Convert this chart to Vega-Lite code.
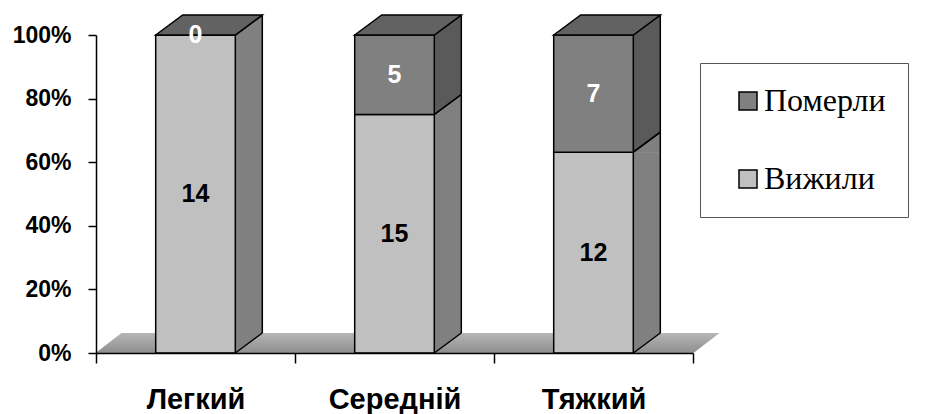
{
  "$schema": "https://vega.github.io/schema/vega-lite/v6.json",
  "width": 597,
  "height": 318,
  "autosize": {"type": "none"},
  "padding": {"left": 96, "top": 35, "right": 233, "bottom": 61},
  "background": "white",
  "config": {"view": {"stroke": null}, "font": "Liberation Sans"},
  "data": {
    "values": [
      {"severity": "Легкий", "outcome": "Вижили", "n": 14},
      {"severity": "Легкий", "outcome": "Померли", "n": 0},
      {"severity": "Середній", "outcome": "Вижили", "n": 15},
      {"severity": "Середній", "outcome": "Померли", "n": 5},
      {"severity": "Тяжкий", "outcome": "Вижили", "n": 12},
      {"severity": "Тяжкий", "outcome": "Померли", "n": 7}
    ]
  },
  "transform": [
    {"stack": "n", "groupby": ["severity"], "sort": [{"field": "outcome", "order": "ascending"}], "as": ["y0", "y1"], "offset": "normalize"},
    {"calculate": "(datum.y0 + datum.y1) / 2", "as": "ymid"}
  ],
  "encoding": {
    "x": {
      "field": "severity",
      "type": "nominal",
      "scale": {"type": "band", "paddingInner": 0, "paddingOuter": 0},
      "axis": {
        "title": null,
        "labelAngle": 0,
        "domainColor": "#000",
        "domainWidth": 1.5,
        "tickColor": "#000",
        "tickWidth": 1.5,
        "tickSize": 10,
        "tickBand": "extent",
        "labelFont": "Liberation Sans",
        "labelFontWeight": "bold",
        "labelFontSize": 29,
        "labelColor": "#000",
        "labelPadding": 22,
        "zindex": 1
      }
    }
  },
  "layer": [
    {
      "transform": [{"filter": "datum.outcome === 'Вижили'"}],
      "mark": {
        "type": "point",
        "shape": "M-100,0L-74,-20L126,-20L100,0Z",
        "size": 4,
        "filled": true,
        "opacity": 1,
        "strokeWidth": 0,
        "fill": {"gradient": "linear", "x1": 0, "y1": 0, "x2": 0, "y2": 1, "stops": [{"offset": 0, "color": "#b6b6b6"}, {"offset": 1, "color": "#8e8e8e"}]}
      },
      "encoding": {"y": {"field": "y0", "type": "quantitative", "axis": {"title": null}}}
    },
    {
      "transform": [{"filter": "datum.n > 0"}],
      "mark": {"type": "bar", "width": 27, "xOffset": 53.3, "y2Offset": -20},
      "encoding": {
        "y": {"field": "y1", "type": "quantitative", "axis": {"title": null}},
        "y2": {"field": "y0"},
        "color": {"condition": {"test": "datum.outcome === 'Померли'", "value": "#5a5a5a"}, "value": "#808080"}
      }
    },
    {
      "transform": [{"filter": "datum.n > 0"}],
      "mark": {"type": "point", "shape": "M39.8,0.5L66.8,-20L66.8,0.5Z", "size": 4, "filled": true, "opacity": 1, "strokeWidth": 0},
      "encoding": {
        "y": {"field": "y1", "type": "quantitative", "axis": {"title": null}},
        "color": {"condition": {"test": "datum.outcome === 'Померли'", "value": "#5a5a5a"}, "value": "#808080"}
      }
    },
    {
      "transform": [{"filter": "datum.n > 0"}],
      "mark": {"type": "point", "shape": "M39.8,-20.5L39.8,0L66.8,-20.5Z", "size": 4, "filled": true, "opacity": 1, "strokeWidth": 0},
      "encoding": {
        "y": {"field": "y0", "type": "quantitative", "axis": {"title": null}},
        "color": {"condition": {"test": "datum.outcome === 'Померли'", "value": "#5a5a5a"}, "value": "#808080"}
      }
    },
    {
      "mark": {"type": "point", "shape": "M39.8,0L66.8,-20", "size": 4, "filled": false, "opacity": 1, "color": "#000", "strokeWidth": 1.5},
      "encoding": {"y": {"field": "y1", "type": "quantitative", "axis": {"title": null}}}
    },
    {
      "mark": {"type": "point", "shape": "M39.8,0L66.8,-20", "size": 4, "filled": false, "opacity": 1, "color": "#000", "strokeWidth": 1.5},
      "encoding": {"y": {"field": "y0", "type": "quantitative", "axis": {"title": null}}}
    },
    {
      "mark": {"type": "rule", "xOffset": 66.8, "yOffset": -20, "y2Offset": -20, "color": "#000", "strokeWidth": 1.5},
      "encoding": {
        "y": {"field": "y1", "type": "quantitative", "axis": {"title": null}},
        "y2": {"field": "y0"}
      }
    },
    {
      "mark": {"type": "bar", "width": {"band": 0.4}, "stroke": "#000", "strokeWidth": 1.5},
      "encoding": {
        "y": {
          "field": "y1",
          "type": "quantitative",
          "scale": {"domain": [0, 1], "nice": false},
          "axis": {
            "title": null,
            "values": [0, 0.2, 0.4, 0.6, 0.8, 1],
            "format": ".0%",
            "grid": false,
            "domainColor": "#000",
            "domainWidth": 1.5,
            "tickColor": "#000",
            "tickWidth": 1.5,
            "tickSize": 8,
            "labelFont": "Liberation Sans",
            "labelFontWeight": "bold",
            "labelFontSize": 23,
            "labelColor": "#000",
            "labelPadding": 17,
            "zindex": 1
          }
        },
        "y2": {"field": "y0"},
        "color": {
          "field": "outcome",
          "type": "nominal",
          "scale": {"domain": ["Померли", "Вижили"], "range": ["#808080", "#c0c0c0"]},
          "legend": {
            "title": null,
            "orient": "none",
            "legendX": 604,
            "legendY": 28,
            "direction": "vertical",
            "symbolType": "square",
            "symbolSize": 324,
            "symbolStrokeColor": "#000",
            "symbolStrokeWidth": 1.5,
            "symbolOffset": 10,
            "labelFont": "Liberation Serif",
            "labelFontSize": 32,
            "labelColor": "#000",
            "labelOffset": 0,
            "rowPadding": 46,
            "padding": 22,
            "strokeColor": "#555",
            "fillColor": "white"
          }
        }
      }
    },
    {
      "transform": [{"filter": "datum.outcome === 'Померли'"}],
      "mark": {"type": "point", "shape": "M-39.8,0L-12.8,-20L66.8,-20L39.8,0Z", "size": 4, "filled": true, "opacity": 1, "fill": "#626262", "stroke": "#000", "strokeWidth": 1.5},
      "encoding": {"y": {"field": "y1", "type": "quantitative", "axis": {"title": null}}}
    },
    {
      "mark": {"type": "text", "font": "Liberation Sans", "fontWeight": "bold", "fontSize": 25, "baseline": "middle", "align": "center"},
      "encoding": {
        "y": {"field": "ymid", "type": "quantitative", "axis": {"title": null}},
        "text": {"field": "n", "type": "quantitative"},
        "color": {"condition": {"test": "datum.outcome === 'Померли'", "value": "#ffffff"}, "value": "#000000"}
      }
    }
  ]
}
